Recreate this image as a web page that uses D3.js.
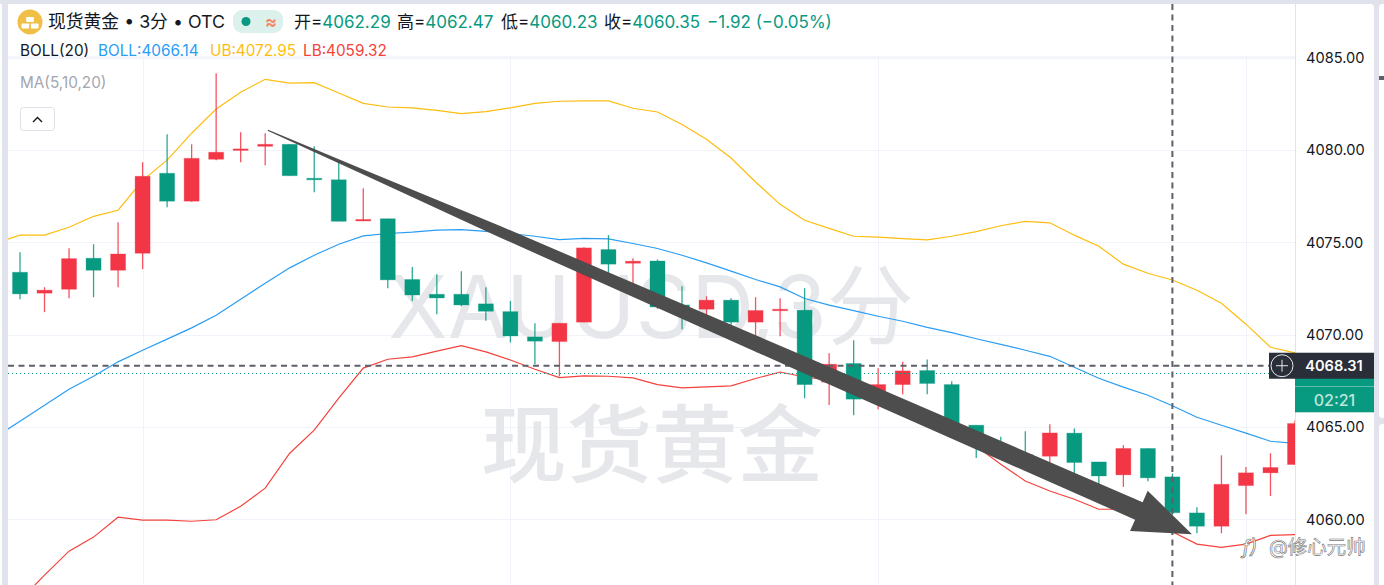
<!DOCTYPE html>
<html>
<head>
<meta charset="utf-8">
<script src="https://cdn.jsdelivr.net/npm/d3@7/dist/d3.min.js"></script>
<style>
  html, body { margin: 0; padding: 0; background: #fff; overflow: hidden; }
  text { font-family: Inter, "Noto Sans CJK SC", sans-serif; }
</style>
</head>
<body>
<div id="chart"></div>
<script>
// candles, index 0 is the leftmost one on screen
const opens = [4073.37,4072.24,4072.45,4074.13,4073.48,4074.40,4078.73,4077.22,4079.49,4079.98,4080.19,4080.30,4078.46,4078.38,4076.16,4076.27,4072.98,4072.18,4072.18,4071.66,4071.24,4069.87,4069.62,4070.67,4074.60,4073.86,4073.98,4071.60,4071.37,4071.86,4070.67,4071.32,4071.32,4067.42,4068.43,4066.66,4067.29,4068.05,4067.29,4065.09,4064.01,4063.50,4063.41,4064.66,4063.10,4062.40,4063.83,4062.29,4060.34,4059.62,4061.82,4062.51,4062.96];
const highs = [4074.46,4072.56,4074.67,4074.89,4076.08,4079.33,4080.84,4080.30,4084.15,4080.95,4080.90,4080.30,4080.19,4079.33,4077.92,4076.27,4073.66,4073.26,4073.43,4072.56,4071.82,4070.61,4070.61,4074.73,4075.38,4074.13,4074.06,4072.61,4072.07,4071.96,4072.02,4071.96,4072.51,4068.99,4069.69,4068.18,4068.52,4068.65,4067.47,4065.09,4064.46,4064.76,4065.14,4064.91,4063.10,4064.01,4063.83,4062.47,4060.65,4063.46,4062.82,4063.57,4065.36];
const lows = [4071.91,4071.21,4071.96,4072.02,4072.56,4073.54,4076.89,4077.19,4079.44,4079.33,4079.17,4078.60,4077.70,4076.13,4076.13,4072.51,4071.82,4071.10,4071.53,4070.74,4069.57,4068.39,4067.74,4070.67,4072.72,4072.56,4071.39,4070.29,4070.94,4070.50,4069.80,4069.91,4066.55,4066.19,4065.63,4065.96,4066.77,4066.77,4064.93,4063.32,4063.63,4063.19,4062.98,4062.29,4061.84,4061.75,4062.06,4060.23,4059.24,4059.24,4060.27,4061.25,4062.96];
const closes = [4072.20,4072.40,4074.11,4073.48,4074.36,4078.57,4077.22,4079.54,4079.87,4080.05,4080.30,4078.60,4078.41,4076.13,4076.23,4072.96,4072.14,4071.98,4071.60,4071.26,4069.92,4069.64,4070.61,4074.69,4073.81,4073.97,4071.49,4071.42,4071.86,4070.67,4071.30,4071.37,4067.29,4068.39,4066.50,4067.29,4068.03,4067.35,4065.04,4064.39,4063.90,4063.25,4064.67,4063.07,4062.34,4063.83,4062.24,4060.35,4059.62,4061.89,4062.51,4062.80,4065.18];

// bollinger bands, first value is one bar left of the screen
const upper = [4074.94,4075.38,4075.38,4075.81,4076.40,4076.73,4078.35,4079.44,4080.90,4082.21,4083.12,4083.82,4083.61,4083.64,4083.08,4082.52,4082.32,4082.27,4082.14,4081.96,4082.07,4082.27,4082.52,4082.63,4082.65,4082.65,4082.25,4082.05,4081.37,4080.57,4079.56,4078.26,4077.05,4076.19,4075.75,4075.32,4075.27,4075.19,4075.13,4075.32,4075.57,4075.89,4076.13,4076.05,4075.38,4074.78,4073.81,4073.32,4072.95,4072.40,4071.69,4070.56,4069.31,4069.01];
const middle = [4064.44,4065.31,4066.17,4067.04,4067.74,4068.52,4069.15,4069.75,4070.36,4071.04,4071.91,4072.78,4073.61,4074.29,4074.89,4075.34,4075.47,4075.54,4075.65,4075.68,4075.58,4075.47,4075.32,4075.14,4075.21,4075.18,4074.93,4074.66,4074.29,4073.88,4073.43,4072.98,4072.58,4071.95,4071.59,4071.29,4070.99,4070.72,4070.39,4070.10,4069.77,4069.47,4069.15,4068.82,4068.23,4067.63,4067.15,4066.71,4066.14,4065.52,4065.09,4064.66,4064.22,4064.11];
const lower = [4054.80,4055.61,4056.97,4058.27,4059.03,4060.11,4059.95,4059.95,4059.89,4059.97,4060.70,4061.68,4063.57,4064.82,4066.55,4068.18,4068.66,4068.79,4069.10,4069.40,4069.06,4068.62,4068.12,4067.67,4067.76,4067.74,4067.65,4067.29,4067.11,4067.16,4067.22,4067.62,4067.97,4067.70,4067.53,4066.98,4066.50,4065.96,4065.41,4064.66,4063.95,4062.98,4062.07,4061.53,4061.08,4060.54,4060.54,4060.49,4059.32,4058.65,4058.48,4058.65,4059.12,4059.17];

const priceTicks = [4060, 4065, 4070, 4075, 4080, 4085];
const timeGridIdx = [5, 20, 35, 50];
const crossIdx = 47;
const crossPrice = 4068.31;
const lastPrice = 4067.90;
const arrowFrom = [10.11, 4081.06];
const arrowTo = [47.8, 4059.19];
// arrow shaft gets fat quickly, then slowly: share of the shaft, half width
const shaftShare = [0, 0.11, 0.265, 0.61, 1];
const shaftHalf = [0.6, 2.3, 5.3, 8, 9.5];

const titleText = "现货黄金 • 3分 • OTC";
const ohlcLabels = [
  ["开=", "4062.29"], ["高=", "4062.47"], ["低=", "4060.23"], ["收=", "4060.35"]
];
const bollLabels = [
  ["BOLL(20)", "#131722"], ["BOLL:4066.14", "#2a9df4"], ["UB:4072.95", "#fdbd0f"], ["LB:4059.32", "#f4423c"]
];

const W = 1384, H = 585;
const UP = "#f23645", DOWN = "#089981";

const svg = d3.select("#chart").append("svg").attr("width", W).attr("height", H).style("display", "block");

// app chrome behind the card
svg.append("rect").attr("width", W).attr("height", H).attr("fill", "#e0e3eb");
svg.append("rect").attr("x", 8).attr("y", 4).attr("width", 1366).attr("height", 600).attr("rx", 4).attr("fill", "#fff");
svg.append("rect").attr("x", 0).attr("y", 4).attr("width", 2).attr("height", H).attr("fill", "#fff");
svg.append("rect").attr("x", 1379).attr("y", 4).attr("width", 10).attr("height", 414).attr("rx", 4).attr("fill", "#fff");
svg.append("rect").attr("x", 1379).attr("y", 424).attr("width", 10).attr("height", 170).attr("rx", 4).attr("fill", "#fff");
svg.append("rect").attr("x", 1379).attr("y", 76).attr("width", 5).attr("height", 4).attr("fill", "#5d606b");

const x = d3.scaleLinear().domain([0, 52]).range([20, 1295]);
const y = d3.scaleLinear().domain([4060, 4085]).range([519.2, 57.5]);

const defs = svg.append("defs");
defs.append("clipPath").attr("id", "plot").append("rect")
  .attr("x", 8).attr("y", 4).attr("width", 1287).attr("height", H);

const plot = svg.append("g").attr("clip-path", "url(#plot)");

// grid
plot.append("g").selectAll("line").data(priceTicks).enter().append("line")
  .attr("x1", 8).attr("x2", 1295)
  .attr("y1", d => Math.round(y(d)) + 0.5).attr("y2", d => Math.round(y(d)) + 0.5)
  .attr("stroke", "#f0f3fa");
plot.append("g").selectAll("line").data(timeGridIdx).enter().append("line")
  .attr("x1", d => Math.round(x(d)) + 0.5).attr("x2", d => Math.round(x(d)) + 0.5)
  .attr("y1", 4).attr("y2", H)
  .attr("stroke", "#f0f3fa");

// watermark
plot.append("text").attr("x", 651).attr("y", 338).attr("text-anchor", "middle")
  .attr("font-size", 87).attr("fill", "#e6e7ea").text("XAUUSD,3分");
plot.append("text").attr("x", 652).attr("y", 476).attr("text-anchor", "middle")
  .attr("font-size", 85.5).attr("font-weight", 500).attr("fill", "#e6e7ea").text("现货黄金");

// bands, they start one bar off screen
const bandLine = d3.line().x((d, i) => x(i - 1)).y(d => y(d));
[[upper, "#fdbd0f"], [middle, "#2a9df4"], [lower, "#f4423c"]].forEach(([vals, col]) => {
  plot.append("path").attr("d", bandLine(vals)).attr("fill", "none")
    .attr("stroke", col).attr("stroke-width", 1.2);
});

// candles
const idx = d3.range(opens.length);
const color = i => closes[i] >= opens[i] ? UP : DOWN;
plot.append("g").selectAll("line").data(idx).enter().append("line")
  .attr("x1", i => x(i)).attr("x2", i => x(i))
  .attr("y1", i => y(highs[i])).attr("y2", i => y(lows[i]))
  .attr("stroke", color).attr("stroke-width", 1.3).attr("stroke-opacity", 0.85);
plot.append("g").selectAll("rect").data(idx).enter().append("rect")
  .attr("x", i => x(i) - 7.5).attr("width", 15)
  .attr("y", i => y(Math.max(opens[i], closes[i])))
  .attr("height", i => Math.max(1.5, Math.abs(y(opens[i]) - y(closes[i]))))
  .attr("fill", color).attr("stroke", color).attr("stroke-opacity", 0.3).attr("stroke-width", 1);

// header strip, the crosshair stays on top of it
svg.append("rect").attr("x", 8).attr("y", 4).attr("width", 1287).attr("height", 52).attr("fill", "#fff").attr("opacity", 0.85);
svg.append("line").attr("x1", 8).attr("x2", 1295).attr("y1", 57).attr("y2", 57).attr("stroke", "#f0f3fa").attr("stroke-width", 1.6);

// last price dotted line and crosshair
const overlay = svg.append("g").attr("clip-path", "url(#plot)");
overlay.append("line").attr("x1", 8).attr("x2", 1295)
  .attr("y1", Math.round(y(lastPrice)) + 0.5).attr("y2", Math.round(y(lastPrice)) + 0.5)
  .attr("stroke", DOWN).attr("stroke-dasharray", "1 3");
overlay.append("line").attr("x1", 8).attr("x2", 1295)
  .attr("y1", y(crossPrice)).attr("y2", y(crossPrice))
  .attr("stroke", "#5d606b").attr("stroke-width", 2).attr("stroke-dasharray", "6 4.5");
overlay.append("line").attr("x1", x(crossIdx)).attr("x2", x(crossIdx))
  .attr("y1", 4).attr("y2", H)
  .attr("stroke", "#5d606b").attr("stroke-width", 2).attr("stroke-dasharray", "6 4.5");

// hand drawn arrow on top of the candles
const ax0 = x(arrowFrom[0]), ay0 = y(arrowFrom[1]), ax1 = x(arrowTo[0]), ay1 = y(arrowTo[1]);
const len = Math.hypot(ax1 - ax0, ay1 - ay0);
const ux = (ax1 - ax0) / len, uy = (ay1 - ay0) / len;
const pt = (along, side) => [ax0 + ux * along - uy * side, ay0 + uy * along + ux * side];
const head = 58;
const shaftTop = shaftShare.map((s, i) => pt(s * (len - head), -shaftHalf[i]));
const shaftBottom = shaftShare.map((s, i) => pt(s * (len - head), shaftHalf[i])).reverse();
svg.append("polygon").attr("fill", "#4d4d4d").attr("points", [
  ...shaftTop, pt(len - head, -22), pt(len, 0), pt(len - head, 22), ...shaftBottom
].join(" "));

// price axis
const axisG = svg.append("g").attr("transform", "translate(1295,0)");
axisG.call(d3.axisRight(y).tickValues(priceTicks).tickSize(0).tickPadding(11).tickFormat(d3.format(".2f")));
axisG.select(".domain").attr("stroke", "#e0e3eb").attr("d", "M0.5,4V585");
axisG.selectAll("text").attr("font-size", 14.6).attr("fill", "#131722").attr("dy", "0.34em")
  .style("font-family", "Inter, sans-serif");

// price tags
svg.append("rect").attr("x", 1295).attr("y", y(lastPrice) - 13).attr("width", 79).attr("height", 52).attr("fill", DOWN);
svg.append("rect").attr("x", 1295).attr("y", 386).attr("width", 79).attr("height", 1).attr("fill", "#5fbcaa");
svg.append("text").attr("x", 1334.5).attr("y", 405.5).attr("text-anchor", "middle")
  .attr("font-size", 16).attr("font-weight", 500).attr("fill", "#bfe6dd").text("02:21");
svg.append("rect").attr("x", 1269).attr("y", y(crossPrice) - 13).attr("width", 105).attr("height", 26).attr("fill", "#2a2e39");
svg.append("text").attr("x", 1334).attr("y", y(crossPrice) + 5.5).attr("text-anchor", "middle")
  .attr("font-size", 14.6).attr("font-weight", 600).attr("fill", "#fff").text(crossPrice.toFixed(2));
svg.append("circle").attr("cx", 1282).attr("cy", y(crossPrice)).attr("r", 11)
  .attr("fill", "none").attr("stroke", "#e8e8ea");
svg.append("path").attr("d", d3.line()([[1276, y(crossPrice)], [1288, y(crossPrice)]]))
  .attr("stroke", "#e8e8ea");
svg.append("path").attr("d", d3.line()([[1282, y(crossPrice) - 6], [1282, y(crossPrice) + 6]]))
  .attr("stroke", "#e8e8ea");

// gold icon
svg.append("circle").attr("cx", 30).attr("cy", 22).attr("r", 12.5).attr("fill", "#f0bf45");
[[30, 17], [25.3, 23.5], [34.7, 23.5]].forEach(d => {
  svg.append("rect").attr("x", d[0] - 3.8).attr("y", d[1]).attr("width", 7.6).attr("height", 5).attr("rx", 0.8).attr("fill", "#fff");
});

svg.append("text").attr("x", 48).attr("y", 28).attr("font-size", 17.8).attr("fill", "#131722").text(titleText);

// status pill
svg.append("rect").attr("x", 233).attr("y", 10).attr("width", 50).attr("height", 23).attr("rx", 9).attr("fill", "#dcf0ec");
svg.append("circle").attr("cx", 246).attr("cy", 21.5).attr("r", 4.5).attr("fill", DOWN);
svg.append("text").attr("x", 271).attr("y", 27.5).attr("text-anchor", "middle")
  .attr("font-size", 18).attr("font-weight", 600).attr("fill", "#f7825f").text("≈");

const ohlcX = [294, 397, 501, 604];
const ohlc = svg.append("text").attr("y", 28).attr("font-size", 17);
ohlcLabels.forEach((d, i) => {
  ohlc.append("tspan").attr("x", ohlcX[i]).attr("fill", "#131722").text(d[0]);
  ohlc.append("tspan").attr("fill", DOWN).text(d[1]);
});
svg.append("text").attr("x", 707).attr("y", 28).attr("font-size", 17).attr("fill", DOWN).text("−1.92 (−0.05%)");

const bollX = [20, 98, 210, 303];
bollLabels.forEach((d, i) => {
  svg.append("text").attr("x", bollX[i]).attr("y", 56).attr("font-size", 15.3).attr("fill", d[1]).text(d[0]);
});

svg.append("text").attr("x", 20).attr("y", 88).attr("font-size", 15.3).attr("fill", "#a3a6af").text("MA(5,10,20)");
svg.append("rect").attr("x", 20.5).attr("y", 107.5).attr("width", 34).attr("height", 23).attr("rx", 3)
  .attr("fill", "#fff").attr("stroke", "#dfe1e8");
svg.append("path").attr("d", d3.line()([[33, 122], [37.5, 117.5], [42, 122]]))
  .attr("fill", "none").attr("stroke", "#131722").attr("stroke-width", 1.4);

// site watermark
svg.append("text").attr("x", 1242).attr("y", 554).attr("font-size", 20).attr("font-style", "italic")
  .attr("fill", "#fff").attr("stroke", "#666").attr("stroke-width", 0.6).text("ƒ)");
svg.append("text").attr("x", 1269).attr("y", 554).attr("font-size", 19.5)
  .attr("fill", "#fff").attr("stroke", "#777").attr("stroke-width", 0.6).text("@修心元帅");
</script>
</body>
</html>
